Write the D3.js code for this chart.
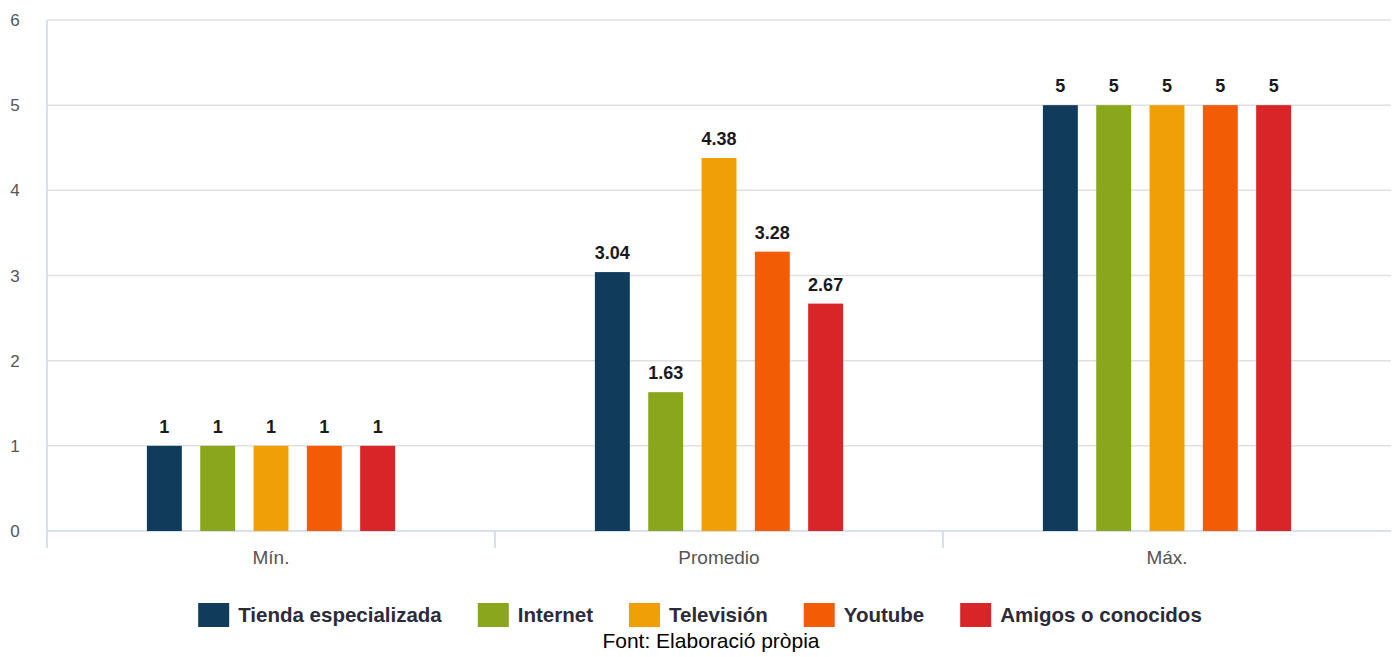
<!DOCTYPE html>
<html>
<head>
<meta charset="utf-8">
<script src="https://cdn.jsdelivr.net/npm/d3@7"></script>
<style>
  body { margin: 0; background: #fff; }
  svg { display: block; font-family: "Liberation Sans", Arial, sans-serif; }
</style>
</head>
<body>
<script>
// data
var categories = ["Mín.", "Promedio", "Máx."];
var seriesNames = ["Tienda especializada", "Internet", "Televisión", "Youtube", "Amigos o conocidos"];
var seriesColors = ["#103b5a", "#8aa61d", "#f19f06", "#f25c05", "#d92527"];
var minValues = [1, 1, 1, 1, 1];
var avgValues = [3.04, 1.63, 4.38, 3.28, 2.67];
var maxValues = [5, 5, 5, 5, 5];
var yTicks = [0, 1, 2, 3, 4, 5, 6];
var sourceText = "Font: Elaboració pròpia";

var values = [minValues, avgValues, maxValues];

var W = 1392, H = 657;
var plotLeft = 47, plotRight = 1391, plotTop = 20, plotBottom = 531;

var svg = d3.select("body").append("svg")
    .attr("width", W)
    .attr("height", H);

var y = d3.scaleLinear().domain([0, 6]).range([plotBottom, plotTop]);
var x0 = d3.scaleBand().domain(categories).range([plotLeft, plotRight]).padding(0);
var gw = x0.bandwidth();
var x1 = d3.scaleBand().domain(seriesNames)
    .range([gw * 0.223, gw * 0.777])
    .paddingInner(0.345).paddingOuter(0);

// gridlines
svg.append("g").selectAll("line")
    .data(yTicks)
    .enter().append("line")
    .attr("x1", plotLeft).attr("x2", plotRight)
    .attr("y1", d => y(d)).attr("y2", d => y(d))
    .attr("stroke", d => d === 0 ? "#ccd6eb" : "#e0e0e0")
    .attr("stroke-width", 1.5);

// left axis line
svg.append("line")
    .attr("x1", plotLeft).attr("x2", plotLeft)
    .attr("y1", plotTop).attr("y2", plotBottom + 17)
    .attr("stroke", "#ccd6eb").attr("stroke-width", 1.5);

// y tick labels
svg.append("g").selectAll("text")
    .data(yTicks)
    .enter().append("text")
    .attr("x", 15)
    .attr("y", d => y(d) + 6)
    .attr("text-anchor", "middle")
    .attr("font-size", 17)
    .attr("fill", "#555")
    .text(d => d);

// category separators (ticks below the axis)
var seps = categories.slice(1).map(c => x0(c));
svg.append("g").selectAll("line")
    .data(seps)
    .enter().append("line")
    .attr("x1", d => d).attr("x2", d => d)
    .attr("y1", plotBottom).attr("y2", plotBottom + 17)
    .attr("stroke", "#ccd6eb").attr("stroke-width", 1.5);

// category labels
svg.append("g").selectAll("text")
    .data(categories)
    .enter().append("text")
    .attr("x", d => x0(d) + gw / 2)
    .attr("y", plotBottom + 33)
    .attr("text-anchor", "middle")
    .attr("font-size", 19)
    .attr("fill", "#555")
    .text(d => d);

// bars
var groups = svg.append("g").selectAll("g")
    .data(categories)
    .enter().append("g")
    .attr("transform", d => "translate(" + x0(d) + ",0)");

groups.selectAll("rect")
    .data((d, i) => values[i].map((v, j) => ({ name: seriesNames[j], value: v, color: seriesColors[j] })))
    .enter().append("rect")
    .attr("x", d => x1(d.name))
    .attr("width", x1.bandwidth())
    .attr("y", d => y(d.value))
    .attr("height", d => plotBottom - y(d.value))
    .attr("fill", d => d.color);

groups.selectAll("text")
    .data((d, i) => values[i].map((v, j) => ({ name: seriesNames[j], value: v })))
    .enter().append("text")
    .attr("x", d => x1(d.name) + x1.bandwidth() / 2)
    .attr("y", d => y(d.value) - 13)
    .attr("text-anchor", "middle")
    .attr("font-size", 18)
    .attr("font-weight", "bold")
    .attr("fill", "#1a1a1a")
    .text(d => d.value);

// legend, laid out from measured text widths
var legend = svg.append("g");
var lx = 0;
seriesNames.forEach((n, i) => {
    var g = legend.append("g").attr("transform", "translate(" + lx + ",0)");
    g.append("rect")
        .attr("x", 0).attr("y", 603)
        .attr("width", 31).attr("height", 24)
        .attr("fill", seriesColors[i]);
    var t = g.append("text")
        .attr("x", 40).attr("y", 622)
        .attr("font-size", 20.5)
        .attr("font-weight", "bold")
        .attr("fill", "#2b2b3a")
        .text(n);
    var w = t.node().getComputedTextLength();
    lx += 40 + w + 36;
});
var totalW = lx - 36;
legend.attr("transform", "translate(" + (700 - totalW / 2) + ",0)");

// source note
svg.append("text")
    .attr("x", 711)
    .attr("y", 648)
    .attr("text-anchor", "middle")
    .attr("font-size", 21)
    .attr("fill", "#000")
    .text(sourceText);
</script>
</body>
</html>
